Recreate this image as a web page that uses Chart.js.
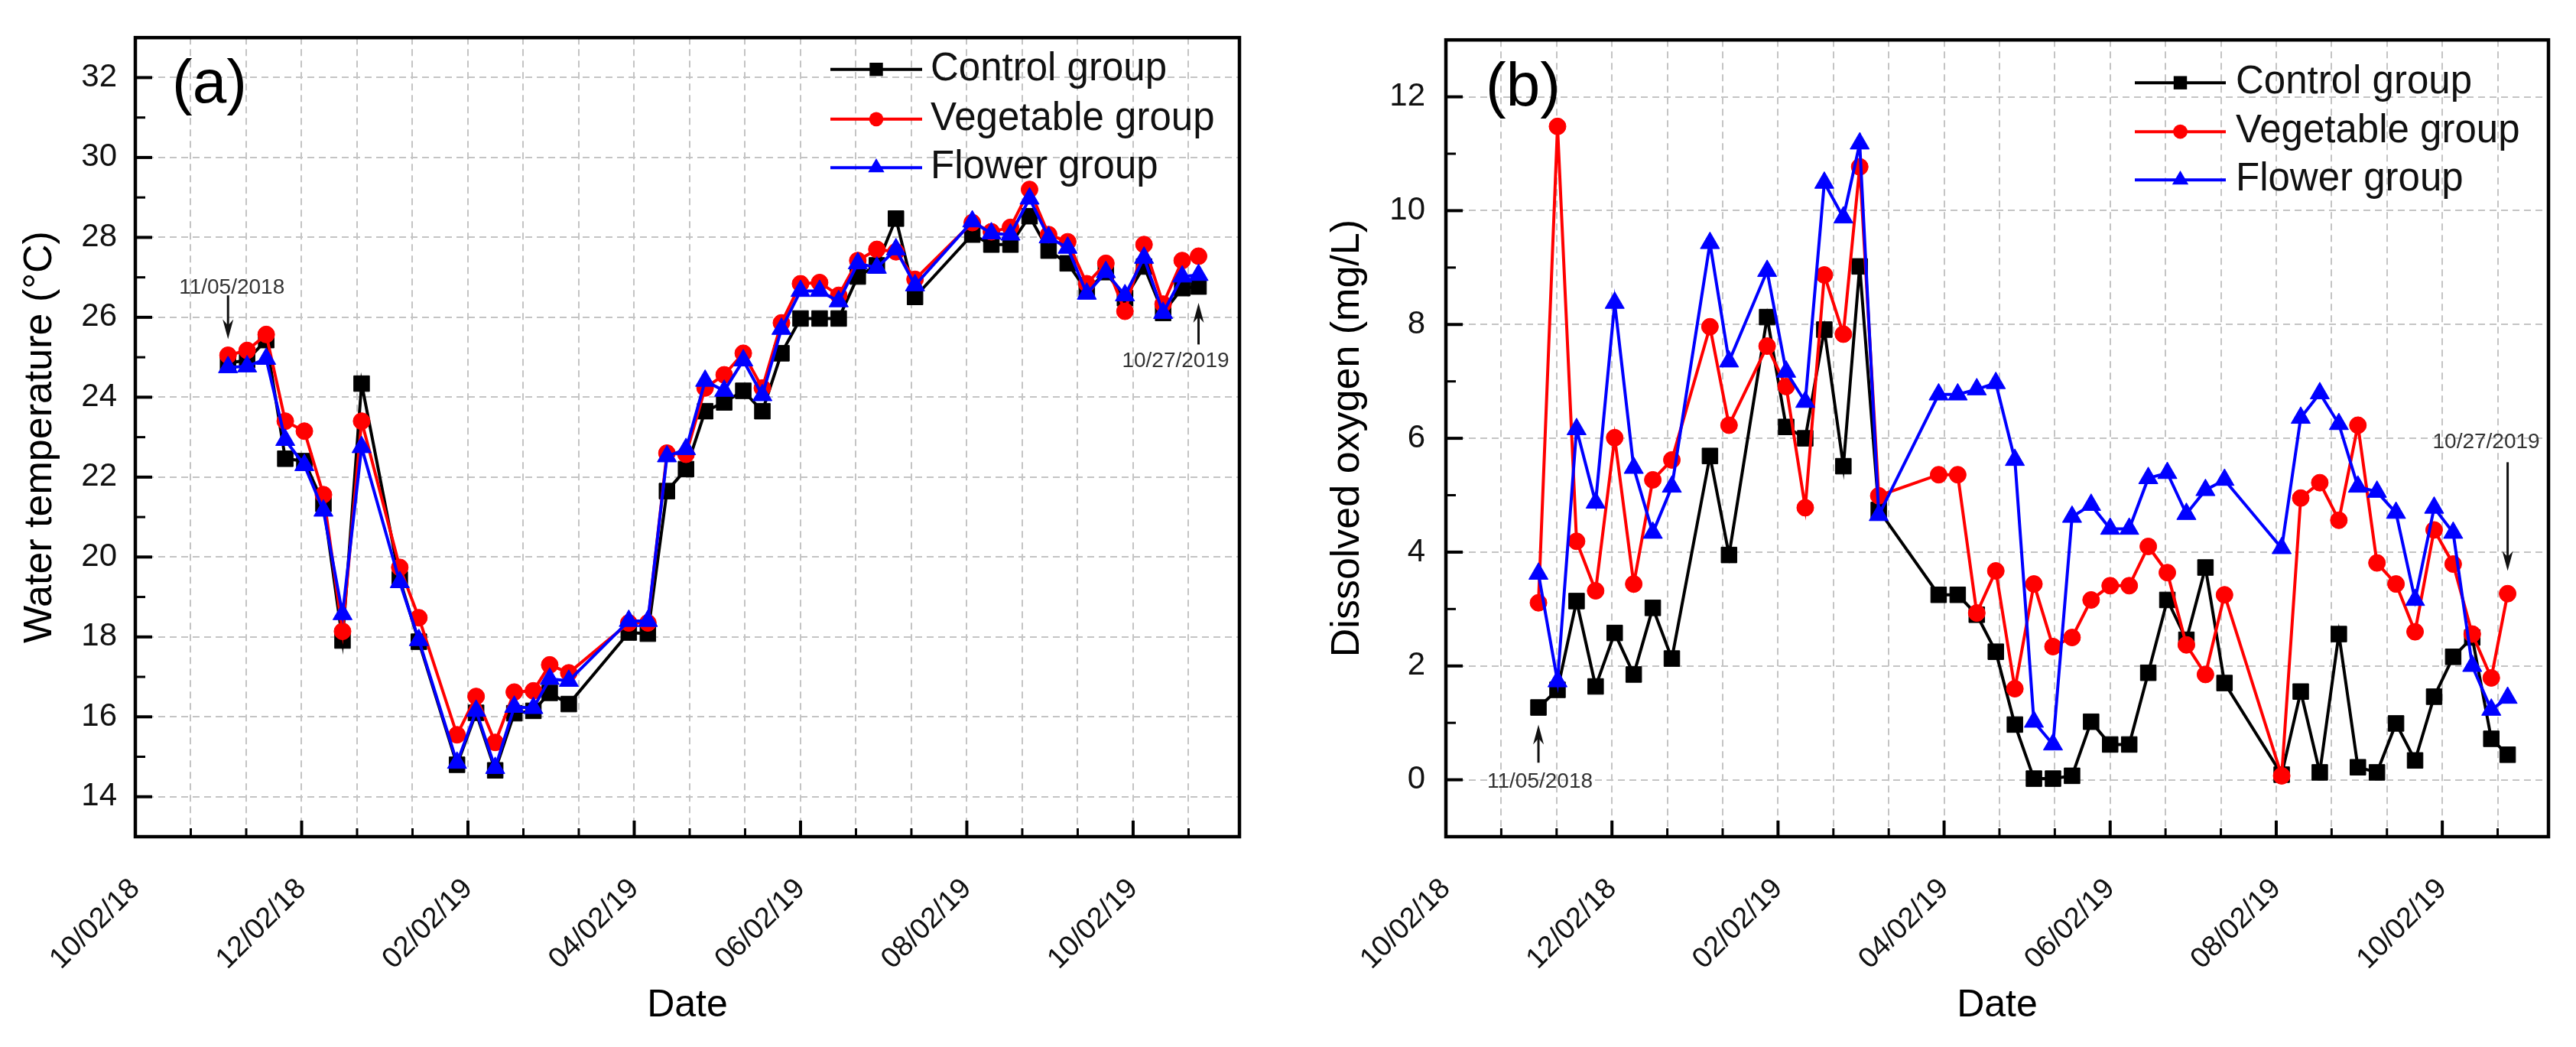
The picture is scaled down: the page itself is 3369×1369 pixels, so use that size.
<!DOCTYPE html>
<html>
<head>
<meta charset="utf-8">
<script src="https://cdn.jsdelivr.net/npm/chart.js@4.4.1/dist/chart.umd.min.js"></script>
<style>
  html, body { margin: 0; padding: 0; background: #ffffff; }
  #wrap { position: relative; width: 3369px; height: 1369px; overflow: hidden; background: #fff; }
  canvas { position: absolute; top: 0; }
  #ca { left: 0px; }
  #cb { left: 1690px; }
</style>
</head>
<body>
<div id="wrap">
  <canvas id="ca" width="1690" height="1369" style="width:1690px;height:1369px"></canvas>
  <canvas id="cb" width="1679" height="1369" style="width:1679px;height:1369px"></canvas>
</div>
<script>
// ---------------- DATA ----------------
const sampleDates = [
  '11/05/2018','11/12/2018','11/19/2018','11/26/2018','12/03/2018','12/10/2018','12/17/2018','12/24/2018',
  '01/07/2019','01/14/2019','01/28/2019','02/04/2019','02/11/2019','02/18/2019','02/25/2019','03/03/2019',
  '03/10/2019','04/01/2019','04/08/2019','04/15/2019','04/22/2019','04/29/2019','05/06/2019','05/13/2019',
  '05/20/2019','05/27/2019','06/03/2019','06/10/2019','06/17/2019','06/24/2019','07/01/2019','07/08/2019',
  '07/15/2019','08/05/2019','08/12/2019','08/19/2019','08/26/2019','09/02/2019','09/09/2019','09/16/2019',
  '09/23/2019','09/30/2019','10/07/2019','10/14/2019','10/21/2019','10/27/2019'
];
const xTickLabels = ['10/02/18','12/02/18','02/02/19','04/02/19','06/02/19','08/02/19','10/02/19'];
const seriesNames = ['Control group', 'Vegetable group', 'Flower group'];

// (a) Water temperature (°C)
const tempControl = [24.85,24.93,25.43,22.46,22.40,21.33,17.91,24.34,19.44,17.88,14.80,16.10,14.66,16.09,16.15,16.60,
  16.32,18.11,18.08,21.65,22.20,23.65,23.87,24.16,23.65,25.10,25.97,25.97,25.97,27.02,27.30,28.47,
  26.51,28.07,27.82,27.82,28.53,27.67,27.35,26.66,27.13,26.48,27.27,26.11,26.73,26.77];
const tempVegetable = [25.05,25.17,25.57,23.40,23.15,21.56,18.14,23.40,19.74,18.48,15.55,16.51,15.36,16.62,16.65,17.30,
  17.10,18.35,18.35,22.60,22.57,24.23,24.56,25.10,24.23,25.86,26.84,26.87,26.55,27.42,27.70,27.64,
  26.95,28.37,28.14,28.25,29.20,28.07,27.89,26.84,27.35,26.15,27.82,26.33,27.42,27.53];
const tempFlower = [24.75,24.77,24.96,22.93,22.30,21.16,18.57,22.75,19.37,17.92,14.85,16.15,14.72,16.25,16.22,16.95,
  16.90,18.40,18.40,22.52,22.70,24.41,24.16,24.92,24.05,25.71,26.66,26.66,26.40,27.35,27.24,27.70,
  26.80,28.40,28.10,28.07,28.97,28.00,27.74,26.59,27.13,26.55,27.49,26.11,27.02,27.06];

// (b) Dissolved oxygen (mg/L)
const doControl = [1.27,1.58,3.14,1.64,2.58,1.85,3.02,2.13,5.69,3.95,8.13,6.20,6.00,7.91,5.51,9.02,
  4.74,3.25,3.25,2.90,2.25,0.97,0.02,0.02,0.07,1.02,0.62,0.62,1.88,3.16,2.46,3.73,
  1.70,0.09,1.55,0.13,2.56,0.22,0.13,0.99,0.34,1.46,2.16,2.50,0.72,0.44];
const doVegetable = [3.11,11.48,4.19,3.32,6.01,3.44,5.27,5.62,7.96,6.23,7.62,6.91,4.78,8.87,7.83,10.77,
  4.99,5.36,5.36,2.93,3.67,1.60,3.44,2.34,2.50,3.16,3.41,3.41,4.10,3.64,2.37,1.85,
  3.25,0.07,4.95,5.22,4.56,6.23,3.81,3.44,2.60,4.39,3.79,2.56,1.79,3.27];
const doFlower = [3.62,1.73,6.16,4.87,8.38,5.48,4.34,5.15,9.43,7.35,8.94,7.17,6.64,10.49,9.88,11.18,
  4.65,6.77,6.77,6.86,6.97,5.62,1.02,0.62,4.62,4.83,4.41,4.41,5.30,5.39,4.67,5.09,
  5.27,4.07,6.36,6.79,6.25,5.15,5.06,4.69,3.16,4.78,4.34,2.00,1.23,1.44];

// ---------------- HELPERS ----------------
const AXIS_ORIGIN = '10/02/2018';
function toUTC(s) { const p = s.split('/').map(Number); return Date.UTC(p[2], p[0] - 1, p[1]); }
function dayOf(s) { return Math.round((toUTC(s) - toUTC(AXIS_ORIGIN)) / 86400000); }
const MAJOR_STEP = 61;            // days between labelled ticks
const MINOR_STEP = MAJOR_STEP / 3;
const X_MAX = 405;
const xTickValues = [];
for (let k = 0; k * MINOR_STEP <= X_MAX + 0.01; k++) xTickValues.push(k * MINOR_STEP);

const FONT = "'Liberation Sans', Arial, Helvetica, sans-serif";
const seriesStyles = [
  { color: '#000000', pointStyle: 'rect', radius: 14.5, order: 3 },
  { color: '#ff0000', pointStyle: 'circle', radius: 11, order: 2 },
  { color: '#0000ff', pointStyle: 'triangle', radius: 14.5, order: 1 }
];

function buildDatasets(seriesArrays) {
  return seriesArrays.map((vals, i) => {
    const st = seriesStyles[i];
    return {
      label: seriesNames[i],
      data: vals.map((v, j) => ({ x: dayOf(sampleDates[j]), y: v })),
      borderColor: st.color,
      backgroundColor: st.color,
      pointBackgroundColor: st.color,
      pointBorderColor: st.color,
      pointBorderWidth: 1,
      pointStyle: st.pointStyle,
      pointRadius: st.radius,
      borderWidth: 4,
      tension: 0,
      order: st.order
    };
  });
}

// plugin: frame, inward ticks, legend, annotations, panel label
const decorPlugin = {
  id: 'decor',
  afterDraw(chart) {
    const o = chart.options.plugins.decor;
    const ctx = chart.ctx;
    const ca = chart.chartArea;
    const xs = chart.scales.x, ys = chart.scales.y;
    ctx.save();
    // inward ticks
    ctx.strokeStyle = '#000';
    xs.ticks.forEach(t => {
      const k = Math.round(t.value / MINOR_STEP);
      const major = k % 3 === 0;
      const px = xs.getPixelForValue(t.value);
      ctx.lineWidth = major ? 4 : 3;
      ctx.beginPath();
      ctx.moveTo(px, ca.bottom);
      ctx.lineTo(px, ca.bottom - (major ? 21 : 11));
      ctx.stroke();
    });
    ys.ticks.forEach(t => {
      const major = Math.round(t.value) % 2 === 0;
      const py = ys.getPixelForValue(t.value);
      ctx.lineWidth = major ? 4 : 3;
      ctx.beginPath();
      ctx.moveTo(ca.left, py);
      ctx.lineTo(ca.left + (major ? 22 : 13), py);
      ctx.stroke();
    });
    // frame
    ctx.lineWidth = 4.5;
    ctx.strokeRect(ca.left, ca.top, ca.right - ca.left, ca.bottom - ca.top);

    // legend
    chart.data.datasets.forEach((ds, i) => {
      const y = ca.top + o.legend.rows[i];
      const x1 = ca.left + o.legend.x1, x2 = ca.left + o.legend.x2;
      ctx.strokeStyle = ds.borderColor;
      ctx.lineWidth = ds.borderWidth;
      ctx.beginPath(); ctx.moveTo(x1, y); ctx.lineTo(x2, y); ctx.stroke();
      ctx.fillStyle = ds.borderColor;
      Chart.helpers.drawPoint(ctx, { pointStyle: ds.pointStyle, radius: ds.pointRadius * 0.85, rotation: 0, borderWidth: 0 }, (x1 + x2) / 2, y);
      ctx.fillStyle = '#111';
      ctx.font = '51px ' + FONT;
      ctx.textAlign = 'left';
      ctx.textBaseline = 'middle';
      ctx.fillText(ds.label, ca.left + o.legend.textX, y);
    });

    // annotations (arrows + date text)
    o.notes.forEach(n => {
      const ax = xs.getPixelForValue(dayOf(n.date));
      const yA = ys.getPixelForValue(n.y1), yB = ys.getPixelForValue(n.y2);
      const dir = yB > yA ? 1 : -1;
      const headLen = 26, headHalf = 7;
      ctx.strokeStyle = '#111';
      ctx.fillStyle = '#111';
      ctx.lineWidth = 3;
      ctx.beginPath(); ctx.moveTo(ax, yA); ctx.lineTo(ax, yB - dir * headLen * 0.6); ctx.stroke();
      ctx.beginPath();
      ctx.moveTo(ax, yB);
      ctx.lineTo(ax - headHalf, yB - dir * headLen);
      ctx.lineTo(ax, yB - dir * headLen * 0.7);
      ctx.lineTo(ax + headHalf, yB - dir * headLen);
      ctx.closePath(); ctx.fill();
      ctx.fillStyle = '#333';
      ctx.font = '28px ' + FONT;
      ctx.textAlign = 'center';
      ctx.textBaseline = 'middle';
      ctx.fillText(n.text, ax + n.textDx, ys.getPixelForValue(n.textY));
    });

    // panel label
    ctx.fillStyle = '#000';
    ctx.font = '80px ' + FONT;
    ctx.textAlign = 'center';
    ctx.textBaseline = 'middle';
    ctx.fillText(o.panel.text, ca.left + o.panel.dx, ca.top + o.panel.dy);
    ctx.restore();
  }
};

function makePanel(canvasId, p) {
  const ctx = document.getElementById(canvasId);
  return new Chart(ctx, {
    type: 'line',
    data: { datasets: buildDatasets(p.series) },
    plugins: [decorPlugin],
    options: {
      responsive: false,
      devicePixelRatio: 1,
      animation: false,
      layout: { padding: { left: 0, top: 37, right: p.padRight, bottom: 0 } },
      scales: {
        x: {
          type: 'linear',
          min: 0,
          max: X_MAX,
          afterBuildTicks: s => { s.ticks = xTickValues.map(v => ({ value: v })); },
          afterFit: s => { s.height = 275; },
          grid: { display: true, drawTicks: false, color: '#c4c4c4', lineWidth: 2 },
          border: { display: false, dash: [9, 6] },
          ticks: {
            autoSkip: false,
            minRotation: 45,
            maxRotation: 45,
            padding: 46,
            color: '#111',
            font: { family: FONT, size: 38 },
            callback: v => {
              const k = Math.round(v / MINOR_STEP);
              return k % 3 === 0 ? xTickLabels[k / 3] : '';
            }
          },
          title: {
            display: true,
            text: 'Date',
            color: '#000',
            font: { family: FONT, size: 50 },
            padding: { top: 0, bottom: 24 }
          }
        },
        y: {
          type: 'linear',
          min: p.yMin,
          max: p.yMax,
          afterBuildTicks: s => {
            const arr = [];
            for (let v = p.yMin; v <= p.yMax; v++) arr.push({ value: v });
            s.ticks = arr;
          },
          afterFit: s => { s.width = p.yAxisWidth; },
          grid: {
            display: true,
            drawTicks: false,
            lineWidth: 2,
            color: c => (Math.round(c.tick.value) % 2 === 0 && c.tick.value !== p.yMin && c.tick.value !== p.yMax) ? '#c4c4c4' : 'rgba(0,0,0,0)'
          },
          border: { display: false, dash: [9, 6] },
          ticks: {
            autoSkip: false,
            padding: p.yTickPad,
            color: '#111',
            font: { family: FONT, size: 42 },
            callback: v => (Math.round(v) % 2 === 0 ? String(v) : '')
          },
          title: {
            display: true,
            text: p.yTitle,
            color: '#000',
            font: { family: FONT, size: 52 },
            padding: { top: p.yTitlePad, bottom: 0 }
          }
        }
      },
      plugins: {
        legend: { display: false },
        tooltip: { enabled: false },
        decor: {
          legend: p.legend,
          notes: p.notes,
          panel: p.panel
        }
      }
    }
  });
}

makePanel('ca', {
  series: [tempControl, tempVegetable, tempFlower],
  yMin: 13, yMax: 33,
  yAxisWidth: 177, yTickPad: 24, yTitlePad: 21, padRight: 69,
  yTitle: 'Water temperature (°C)',
  legend: { x1: 909, x2: 1029, textX: 1040, rows: [41.5, 106.6, 170] },
  panel: { text: '(a)', dx: 97, dy: 63 },
  notes: [
    { text: '11/05/2018', date: sampleDates[0], textDx: 5, textY: 26.74, y1: 26.55, y2: 25.45 },
    { text: '10/27/2019', date: sampleDates[sampleDates.length - 1], textDx: -30, textY: 24.9, y1: 25.32, y2: 26.36 }
  ]
});

makePanel('cb', {
  series: [doControl, doVegetable, doFlower],
  yMin: -1, yMax: 13,
  yAxisWidth: 201, yTickPad: 27, yTitlePad: 41, padRight: 36,
  yTitle: 'Dissolved oxygen (mg/L)',
  legend: { x1: 901, x2: 1020, textX: 1033, rows: [56, 120, 183] },
  panel: { text: '(b)', dx: 101, dy: 64 },
  notes: [
    { text: '11/05/2018', date: sampleDates[0], textDx: 2, textY: -0.03, y1: 0.30, y2: 0.97 },
    { text: '10/27/2019', date: sampleDates[sampleDates.length - 1], textDx: -28, textY: 5.93, y1: 5.58, y2: 3.67 }
  ]
});
</script>
</body>
</html>
